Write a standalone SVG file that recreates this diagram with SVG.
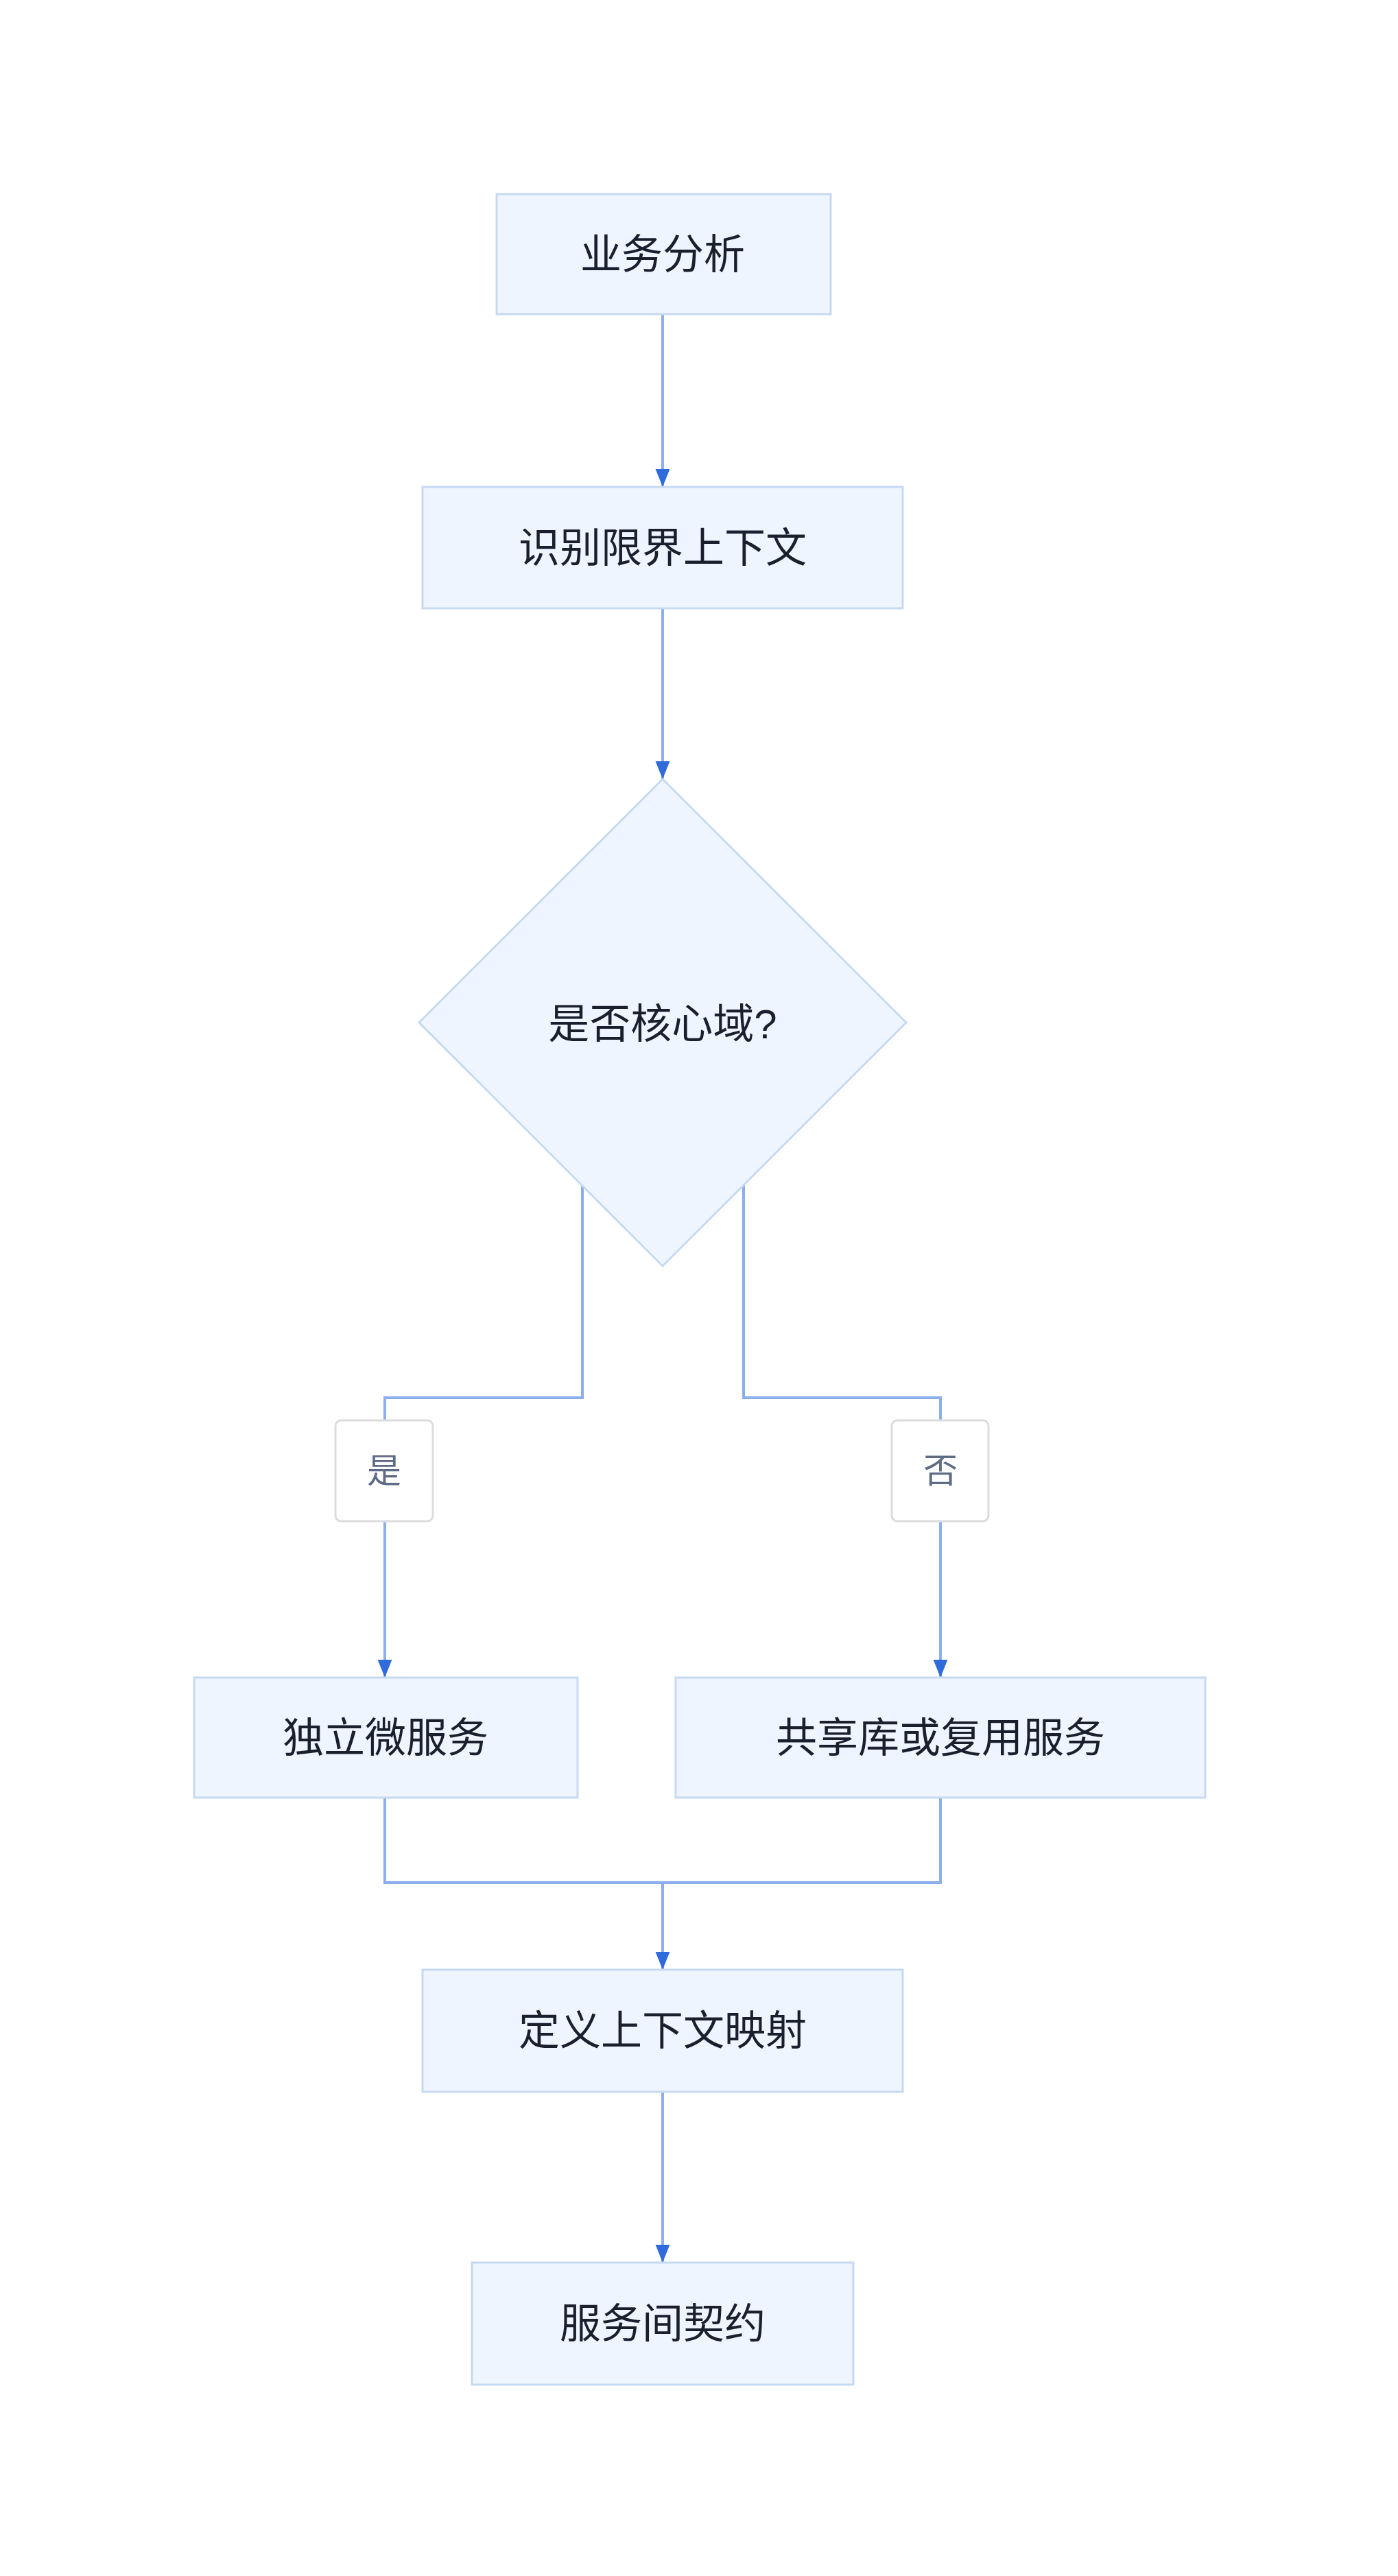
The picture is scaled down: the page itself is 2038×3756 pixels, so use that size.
<svg xmlns="http://www.w3.org/2000/svg" width="2038" height="3756" viewBox="0 0 2038 3756">
<style>
.n{fill:#eff5fe;stroke:#c6d9f3;stroke-width:3}
.t{font-family:"Liberation Sans","Noto Sans CJK SC",sans-serif;font-size:60px;fill:#1a1f2e;text-anchor:middle;dominant-baseline:central}
.l{fill:#fff;stroke:#dcdcdc;stroke-width:3}
.lt{font-family:"Liberation Sans","Noto Sans CJK SC",sans-serif;font-size:50px;fill:#5d6b85;text-anchor:middle;dominant-baseline:central}
.c{fill:none;stroke:#8aaeee;stroke-width:4}
</style>
<defs><marker id="a" markerWidth="10" markerHeight="10" refX="9" refY="5" orient="auto" markerUnits="userSpaceOnUse" viewBox="0 0 10 10"><path d="M0,0L10,5L0,10z" fill="#2f6bdb"/></marker>
<marker id="ah" viewBox="0 0 10 10" refX="10" refY="5" markerWidth="26" markerHeight="26" orient="auto" markerUnits="userSpaceOnUse"><path d="M0,1L10,5L0,9z" fill="#2f6bdb"/></marker></defs>
<rect width="2038" height="3756" fill="#fff"/>
<g id="connectors">
<path class="c" d="M966,458V710" marker-end="url(#ah)"/>
<path class="c" d="M966,887V1136" marker-end="url(#ah)"/>
<path class="c" d="M849,1726V2038H561V2071"/>
<path class="c" d="M561,2218V2446" marker-end="url(#ah)"/>
<path class="c" d="M1084,1726V2038H1371V2071"/>
<path class="c" d="M1371,2218V2446" marker-end="url(#ah)"/>
<path class="c" d="M561,2621V2745H1371V2621"/>
<path class="c" d="M966,2745V2872" marker-end="url(#ah)"/>
<path class="c" d="M966,3050V3299" marker-end="url(#ah)"/>
</g>
<g id="n1"><rect class="n" x="724" y="283" width="487" height="175"/><text class="t" x="966" y="371">业务分析</text></g>
<g id="n2"><rect class="n" x="616" y="710" width="700" height="177"/><text class="t" x="966" y="799">识别限界上下文</text></g>
<g id="n3"><path class="n" d="M966,1136L1321,1491L966,1846L611,1491z"/><text class="t" x="966" y="1493">是否核心域?</text></g>
<g id="l1"><rect class="l" x="489" y="2071" width="142" height="147" rx="8"/><text class="lt" x="560" y="2145">是</text></g>
<g id="l2"><rect class="l" x="1300" y="2071" width="141" height="147" rx="8"/><text class="lt" x="1371" y="2145">否</text></g>
<g id="n4"><rect class="n" x="283" y="2446" width="559" height="175"/><text class="t" x="562" y="2534">独立微服务</text></g>
<g id="n5"><rect class="n" x="985" y="2446" width="772" height="175"/><text class="t" x="1371" y="2534">共享库或复用服务</text></g>
<g id="n6"><rect class="n" x="616" y="2872" width="700" height="178"/><text class="t" x="966" y="2961">定义上下文映射</text></g>
<g id="n7"><rect class="n" x="688" y="3299" width="556" height="178"/><text class="t" x="966" y="3388">服务间契约</text></g>
</svg>
